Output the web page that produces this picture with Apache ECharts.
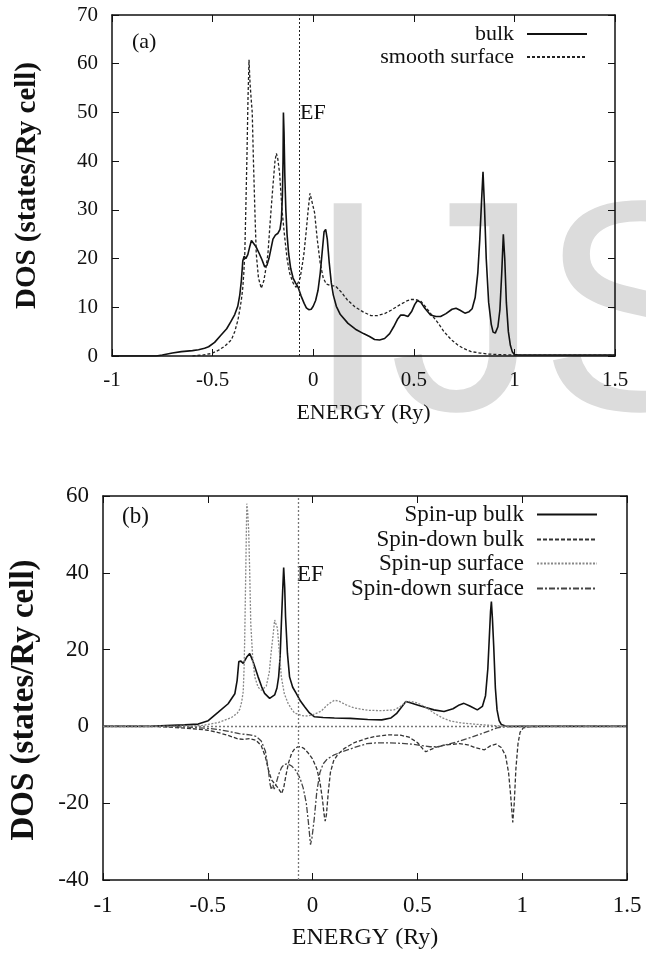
<!DOCTYPE html>
<html>
<head>
<meta charset="utf-8">
<script src="https://cdn.jsdelivr.net/npm/echarts@6/dist/echarts.min.js"></script>
<style>
html,body{margin:0;padding:0;background:#fff;}
#c{width:646px;height:953px;}
</style>
</head>
<body>
<div id="c"></div>
<script>
// ---------- data ----------
const xTicks = [-1, -0.5, 0, 0.5, 1, 1.5];
const xTickLabels = ['-1', '-0.5', '0', '0.5', '1', '1.5'];
const yTicksA = [0, 10, 20, 30, 40, 50, 60, 70];
const yTicksB = [-40, -20, 0, 20, 40, 60];
const EF = -0.075;

// panel (a): total DOS, [energy (Ry), DOS]
const aBulk = [[-1,0],[-0.78,0],[-0.75,0.2],[-0.7,0.6],[-0.655,0.9],[-0.6,1.1],[-0.57,1.3],[-0.54,1.6],[-0.52,1.9],[-0.49,2.8],[-0.46,4.2],[-0.43,5.6],[-0.41,7.0],[-0.39,8.5],[-0.375,10.2],[-0.365,12.5],[-0.357,15.5],[-0.35,19.5],[-0.343,20.5],[-0.335,20],[-0.325,20.8],[-0.315,22.5],[-0.307,23.7],[-0.298,23.5],[-0.285,22.5],[-0.27,21.2],[-0.255,19.8],[-0.241,18.3],[-0.23,18.6],[-0.22,20],[-0.21,22],[-0.2,24],[-0.188,24.8],[-0.175,25.2],[-0.165,26],[-0.158,28],[-0.153,33],[-0.15,40],[-0.148,50],[-0.145,46],[-0.141,37],[-0.136,30],[-0.13,25],[-0.122,21],[-0.112,18],[-0.1,16],[-0.088,15],[-0.076,14.2],[-0.06,12.3],[-0.045,10.8],[-0.034,9.9],[-0.022,9.5],[-0.01,9.6],[0,10.2],[0.012,11.4],[0.024,13.5],[0.035,17],[0.045,21.5],[0.054,25.5],[0.062,26],[0.07,24],[0.08,19],[0.09,15],[0.1,12.5],[0.115,10.2],[0.135,8.5],[0.173,6.7],[0.21,5.5],[0.25,4.6],[0.28,4.0],[0.305,3.4],[0.33,3.3],[0.355,3.6],[0.38,4.6],[0.4,6],[0.42,7.6],[0.435,8.4],[0.45,8.4],[0.471,8.1],[0.49,9.2],[0.505,10.6],[0.518,11.4],[0.535,11.0],[0.555,9.8],[0.583,8.4],[0.61,8.1],[0.633,8.1],[0.66,8.7],[0.69,9.6],[0.71,9.8],[0.73,9.4],[0.754,8.8],[0.775,9.1],[0.79,9.7],[0.805,12],[0.818,17],[0.828,24],[0.837,32],[0.844,37.8],[0.851,31],[0.86,20],[0.872,11],[0.885,6.5],[0.894,4.9],[0.905,4.7],[0.918,6],[0.928,9.5],[0.937,17],[0.945,25],[0.952,20],[0.96,11],[0.97,5],[0.98,2.2],[0.99,0.8],[1.0,0.3],[1.02,0.2],[1.1,0.2],[1.5,0.2]];
const aSurface = [[-0.6,0],[-0.55,0.2],[-0.506,0.5],[-0.47,1.2],[-0.44,2],[-0.407,3.3],[-0.39,5],[-0.374,7.4],[-0.365,9.5],[-0.357,11.5],[-0.35,14],[-0.345,17],[-0.34,21],[-0.335,30],[-0.329,41.6],[-0.324,53],[-0.319,60.8],[-0.314,56],[-0.308,52.6],[-0.303,50],[-0.297,40],[-0.29,30],[-0.283,21],[-0.272,16],[-0.258,13.9],[-0.245,15.5],[-0.235,18],[-0.225,21],[-0.213,28],[-0.2,35],[-0.19,40],[-0.183,41.6],[-0.176,40.5],[-0.167,37.5],[-0.155,30],[-0.142,24.5],[-0.13,20],[-0.117,17],[-0.1,15],[-0.085,14.1],[-0.076,14.2],[-0.065,16],[-0.055,18.5],[-0.046,21],[-0.035,25.5],[-0.025,30],[-0.016,33.4],[-0.008,33],[0.007,29.4],[0.02,24],[0.035,19],[0.05,16],[0.065,14.8],[0.09,14.4],[0.11,14.4],[0.138,13.2],[0.17,11.5],[0.207,10.1],[0.25,9],[0.287,8.3],[0.32,8.3],[0.355,8.7],[0.387,9.4],[0.43,10.5],[0.465,11.3],[0.487,11.6],[0.51,11.6],[0.536,11.2],[0.56,10],[0.59,8.4],[0.62,6.8],[0.65,5],[0.685,3.4],[0.72,2.2],[0.75,1.5],[0.785,0.9],[0.83,0.6],[0.87,0.4],[0.918,0.3],[1.0,0.2],[1.5,0.2]];

// panel (b): spin-resolved DOS
const bUpBulk = [[-1,0],[-0.77,0],[-0.7,0.2],[-0.61,0.4],[-0.546,0.6],[-0.498,1.5],[-0.45,3.7],[-0.403,5.9],[-0.371,8.5],[-0.36,12],[-0.352,16.9],[-0.342,17],[-0.331,16.4],[-0.315,18],[-0.3,19],[-0.285,17],[-0.26,12.9],[-0.243,10.3],[-0.229,8.6],[-0.205,7.3],[-0.181,8.2],[-0.17,10],[-0.162,12.9],[-0.155,18],[-0.149,26.8],[-0.143,35],[-0.138,41.4],[-0.133,36],[-0.129,28.5],[-0.12,19],[-0.11,12.9],[-0.095,10.2],[-0.078,8.6],[-0.058,6.6],[-0.038,5.1],[-0.015,3.5],[0.009,2.5],[0.05,2.3],[0.104,2.2],[0.18,2.1],[0.263,1.8],[0.33,1.7],[0.374,2.2],[0.4,3.3],[0.421,4.8],[0.445,6.5],[0.47,6.1],[0.5,5.6],[0.54,4.9],[0.579,4.3],[0.627,3.9],[0.67,4.6],[0.7,5.6],[0.722,6],[0.75,5.3],[0.786,4.3],[0.81,5.2],[0.825,8],[0.836,15],[0.843,23],[0.849,30],[0.853,32.5],[0.858,28],[0.864,21],[0.872,10],[0.88,4.3],[0.89,1.5],[0.9,0.5],[0.92,0.1],[0.95,0],[1.5,0]];
const bDownBulk = [[-1,0],[-0.76,0],[-0.65,-0.3],[-0.55,-0.7],[-0.5,-1],[-0.45,-1.6],[-0.4,-2.4],[-0.36,-3.2],[-0.33,-3.4],[-0.3,-3.2],[-0.27,-3.6],[-0.245,-5],[-0.225,-8],[-0.21,-11.5],[-0.195,-14],[-0.18,-15],[-0.165,-16],[-0.148,-17.5],[-0.138,-16],[-0.128,-13],[-0.115,-9.5],[-0.1,-7],[-0.085,-5.8],[-0.07,-5.3],[-0.055,-5.3],[-0.04,-5.8],[-0.02,-7],[0,-8.5],[0.02,-11],[0.035,-14.5],[0.047,-19],[0.055,-23],[0.06,-24.7],[0.066,-23],[0.075,-17],[0.085,-12],[0.1,-9],[0.12,-7.3],[0.15,-5.8],[0.2,-4.2],[0.26,-3.1],[0.3,-2.6],[0.36,-2.2],[0.42,-2.3],[0.46,-2.8],[0.5,-4.2],[0.525,-5.8],[0.54,-6.6],[0.56,-6.1],[0.59,-5.4],[0.625,-4.9],[0.66,-4.7],[0.7,-4.5],[0.74,-4.8],[0.78,-5.6],[0.82,-6.1],[0.85,-5],[0.875,-4.6],[0.9,-5.5],[0.92,-7.5],[0.935,-12],[0.945,-18],[0.955,-25],[0.962,-20],[0.97,-11],[0.98,-4.5],[0.99,-1.5],[1.005,-0.4],[1.03,-0.1],[1.1,0],[1.5,0]];
const bUpSurface = [[-1,0],[-0.75,0],[-0.688,0],[-0.6,0.1],[-0.53,0.2],[-0.45,1],[-0.387,2.3],[-0.36,3.4],[-0.347,4.5],[-0.338,6.5],[-0.331,9.1],[-0.327,15],[-0.324,22.5],[-0.319,40],[-0.314,58],[-0.31,56],[-0.305,51.1],[-0.3,40],[-0.295,26.8],[-0.286,18],[-0.276,12.9],[-0.26,10.2],[-0.244,9.4],[-0.221,10.5],[-0.207,14],[-0.197,19.7],[-0.188,24],[-0.181,27.7],[-0.175,27.2],[-0.168,25.6],[-0.158,19],[-0.149,12.9],[-0.135,8.5],[-0.117,6],[-0.1,4.5],[-0.086,3.5],[-0.05,2.8],[-0.022,2.7],[0.01,3.2],[0.041,4],[0.075,5.8],[0.104,6.8],[0.125,6.6],[0.16,5.6],[0.199,4.8],[0.263,4.2],[0.33,4.1],[0.389,4.3],[0.42,5.2],[0.445,6.4],[0.47,6.5],[0.5,6.1],[0.54,5],[0.579,3.5],[0.62,2.2],[0.659,1.4],[0.71,0.9],[0.77,0.6],[0.84,0.3],[0.9,0.1],[1.0,0],[1.5,0]];
const bDownSurface = [[-1,0],[-0.7,0],[-0.6,-0.2],[-0.5,-0.5],[-0.45,-0.8],[-0.4,-1.3],[-0.35,-1.9],[-0.3,-2.2],[-0.27,-2.6],[-0.245,-3.8],[-0.225,-6.5],[-0.212,-11],[-0.203,-15],[-0.197,-16.5],[-0.19,-15.2],[-0.183,-16.3],[-0.175,-15],[-0.162,-12.5],[-0.148,-10.7],[-0.135,-9.9],[-0.12,-9.7],[-0.1,-10.3],[-0.08,-11.5],[-0.06,-13.5],[-0.045,-16],[-0.03,-20],[-0.02,-25],[-0.01,-30.8],[-0.003,-29],[0.008,-24],[0.02,-17],[0.035,-12],[0.05,-9.8],[0.07,-8.5],[0.1,-7.5],[0.14,-6.6],[0.2,-5.5],[0.26,-4.5],[0.3,-4.3],[0.36,-4.3],[0.42,-4.4],[0.47,-4.6],[0.52,-5],[0.56,-5.3],[0.6,-5.3],[0.65,-4.6],[0.69,-4],[0.73,-3.3],[0.76,-2.8],[0.8,-2],[0.85,-1],[0.88,-0.4],[0.92,-0.1],[1.0,0],[1.5,0]];

// ---------- chart ----------
const SERIF = '"Liberation Serif", "Times New Roman", serif';
const chart = echarts.init(document.getElementById('c'), null, {renderer: 'canvas'});

function xAx(grid, pos, labels, fs, name, nameGap) {
  return {
    type: 'value', gridIndex: grid, position: pos, min: -1, max: 1.5, interval: 0.5,
    axisLine: {show: true, onZero: false, lineStyle: {color: '#111', width: 1.5}},
    axisTick: {show: true, inside: true, length: 7, lineStyle: {color: '#111', width: 1}},
    axisLabel: {show: labels, color: '#111', fontFamily: SERIF, fontSize: fs, margin: 14,
      formatter: v => { const i = xTicks.indexOf(v); return i >= 0 ? xTickLabels[i] : String(v); }},
    splitLine: {show: false},
    name: name || '', nameLocation: 'middle', nameGap: nameGap || 0,
    nameTextStyle: {color: '#111', fontFamily: SERIF, fontSize: fs + 1}
  };
}
function yAx(grid, pos, labels, min, max, interval, fs, name, nameGap, nfs, npad) {
  return {
    type: 'value', gridIndex: grid, position: pos, min: min, max: max, interval: interval,
    axisLine: {show: true, onZero: false, lineStyle: {color: '#111', width: 1.5}},
    axisTick: {show: true, inside: true, length: 7, lineStyle: {color: '#111', width: 1}},
    axisLabel: {show: labels, color: '#111', fontFamily: SERIF, fontSize: fs, margin: 14},
    splitLine: {show: false},
    name: name || '', nameLocation: 'middle', nameGap: nameGap || 0, nameRotate: 90,
    nameTextStyle: {color: '#111', fontFamily: SERIF, fontSize: nfs || fs, fontWeight: 'bold',
      padding: npad || 0}
  };
}
function legendItem(name, right, top, fs) {
  return {
    data: [name], right: right, top: top, orient: 'horizontal', align: 'right',
    itemWidth: 60, itemHeight: 10, padding: 0, selectedMode: false,
    itemStyle: {opacity: 0},
    textStyle: {color: '#111', fontFamily: SERIF, fontSize: fs, padding: [0, 8, 0, 0]}
  };
}

const option = {
  animation: false,
  backgroundColor: '#fff',
  grid: [
    {left: 112, top: 15, width: 503, height: 341},
    {left: 101, top: 496, width: 526, height: 384}
  ],
  xAxis: [
    xAx(0, 'bottom', true, 21, 'ENERGY (Ry)', 46),
    xAx(0, 'top', false, 21),
    xAx(1, 'bottom', true, 23, 'ENERGY (Ry)', 46),
    xAx(1, 'top', false, 23)
  ],
  yAxis: [
    yAx(0, 'left', true, 0, 70, 10, 21, 'DOS (states/Ry cell)', 70, 29),
    yAx(0, 'right', false, 0, 70, 10, 21),
    yAx(1, 'left', true, -40, 60, 20, 23, 'DOS (states/Ry cell)', 62, 33, [0, 24, 0, 0]),
    yAx(1, 'right', false, -40, 60, 20, 23)
  ],
  legend: [
    legendItem('bulk', 58, 23, 22),
    legendItem('smooth surface', 58, 46, 22),
    legendItem('Spin-up bulk', 48, 503, 23),
    legendItem('Spin-down bulk', 48, 528, 23),
    legendItem('Spin-up surface', 48, 552, 23),
    legendItem('Spin-down surface', 48, 577, 23)
  ],
  graphic: {elements: [
    {type: 'text', x: 306, y: 327, z: -100, silent: true,
      style: {text: 'IJSER', font: '300px "Liberation Sans", Arial, sans-serif', fill: '#dcdcdc', verticalAlign: 'middle'}},
    {type: 'text', x: 132, y: 42, style: {text: '(a)', font: '22px ' + SERIF, fill: '#111', verticalAlign: 'middle'}},
    {type: 'text', x: 300, y: 113, style: {text: 'EF', font: '22px ' + SERIF, fill: '#111', verticalAlign: 'middle'}},
    {type: 'text', x: 122, y: 517, style: {text: '(b)', font: '23px ' + SERIF, fill: '#111', verticalAlign: 'middle'}},
    {type: 'text', x: 297, y: 575, style: {text: 'EF', font: '23px ' + SERIF, fill: '#111', verticalAlign: 'middle'}}
  ]},
  series: [
    {name: 'bulk', type: 'line', xAxisIndex: 0, yAxisIndex: 0, data: aBulk, symbol: 'none',
      lineStyle: {color: '#111', width: 1.6}, itemStyle: {color: '#111'},
      markLine: {silent: true, symbol: 'none', label: {show: false},
        lineStyle: {color: '#222', width: 1, type: [2, 2]}, data: [{xAxis: EF}]}},
    {name: 'smooth surface', type: 'line', xAxisIndex: 0, yAxisIndex: 0, data: aSurface, symbol: 'none',
      lineStyle: {color: '#222', width: 1.3, type: [3, 2]}, itemStyle: {color: '#222'}},
    {name: 'Spin-up bulk', type: 'line', xAxisIndex: 2, yAxisIndex: 2, data: bUpBulk, symbol: 'none',
      lineStyle: {color: '#111', width: 1.6}, itemStyle: {color: '#111'},
      markLine: {silent: true, symbol: 'none', label: {show: false},
        lineStyle: {color: '#777', width: 1.3, type: [2, 2]}, data: [{xAxis: EF}, {yAxis: 0}]}},
    {name: 'Spin-down bulk', type: 'line', xAxisIndex: 2, yAxisIndex: 2, data: bDownBulk, symbol: 'none',
      lineStyle: {color: '#333', width: 1.3, type: [4, 2]}, itemStyle: {color: '#333'}},
    {name: 'Spin-up surface', type: 'line', xAxisIndex: 2, yAxisIndex: 2, data: bUpSurface, symbol: 'none',
      lineStyle: {color: '#888', width: 1.3, type: [2, 1.5]}, itemStyle: {color: '#888'}},
    {name: 'Spin-down surface', type: 'line', xAxisIndex: 2, yAxisIndex: 2, data: bDownSurface, symbol: 'none',
      lineStyle: {color: '#444', width: 1.3, type: [6, 2, 2, 2]}, itemStyle: {color: '#444'}}
  ]
};
chart.setOption(option);
</script>
</body>
</html>
